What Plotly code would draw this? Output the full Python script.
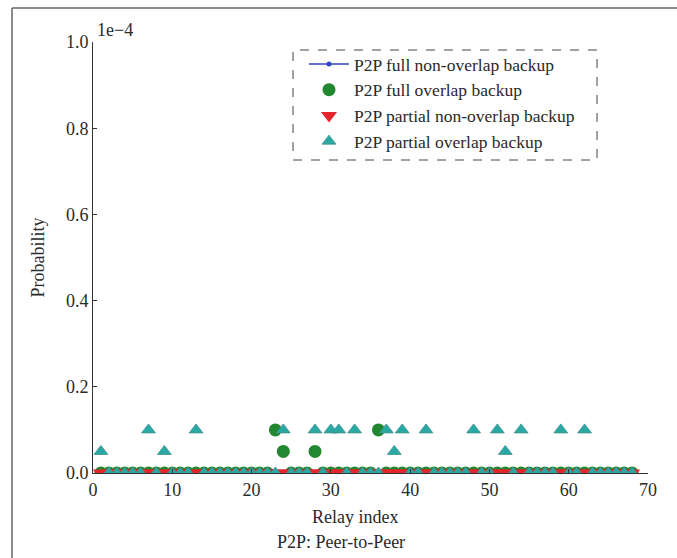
import plotly.graph_objects as go

# Relay indices and per-scheme probabilities
relay_index = list(range(1, 69))

# Nonzero probabilities for each scheme (relay index -> probability)
full_overlap_hits = {23: 1.0e-5, 24: 0.5e-5, 28: 0.5e-5, 36: 1.0e-5}
partial_overlap_hits = {
    1: 0.5e-5, 7: 1.0e-5, 9: 0.5e-5, 13: 1.0e-5, 24: 1.0e-5, 28: 1.0e-5,
    30: 1.0e-5, 31: 1.0e-5, 33: 1.0e-5, 37: 1.0e-5, 38: 0.5e-5, 39: 1.0e-5,
    42: 1.0e-5, 48: 1.0e-5, 51: 1.0e-5, 52: 0.5e-5, 54: 1.0e-5, 59: 1.0e-5,
    62: 1.0e-5,
}

full_non_overlap = [0.0 for _ in relay_index]
full_overlap = [full_overlap_hits.get(i, 0.0) for i in relay_index]
partial_non_overlap = [0.0 for _ in relay_index]
partial_overlap = [partial_overlap_hits.get(i, 0.0) for i in relay_index]

x_ticks = [0, 10, 20, 30, 40, 50, 60, 70]
y_ticks = [0.0, 0.2e-4, 0.4e-4, 0.6e-4, 0.8e-4, 1.0e-4]
y_tick_text = ["0.0", "0.2", "0.4", "0.6", "0.8", "1.0"]

FONT = "Liberation Serif, Times New Roman, serif"
TXT = "#2a2a2a"
FS = 18

fig = go.Figure()
fig.add_trace(go.Scatter(
    x=relay_index, y=full_non_overlap, mode="lines+markers",
    name="P2P full non-overlap backup",
    line=dict(color="#3045c0", width=1.5),
    marker=dict(symbol="circle", size=5, color="#3045c0"),
))
fig.add_trace(go.Scatter(
    x=relay_index, y=full_overlap, mode="markers",
    name="P2P full overlap backup",
    marker=dict(symbol="circle", size=13, color="#23872f"),
))
fig.add_trace(go.Scatter(
    x=relay_index, y=partial_non_overlap, mode="markers",
    name="P2P partial non-overlap backup",
    marker=dict(symbol="triangle-down", size=14, color="#e3262c"),
))
fig.add_trace(go.Scatter(
    x=relay_index, y=partial_overlap, mode="markers",
    name="P2P partial overlap backup",
    marker=dict(symbol="triangle-up", size=12, color="#2aa8a3",
                line=dict(color="#3f8f8e", width=0.8)),
))

# plot-area geometry in pixels (used for placing frame/legend box)
W, H = 677, 558
L, R, T, B = 93, 29, 42, 85
pw, ph = W - L - R, H - T - B


def px(xp):
    return (xp - L) / pw


def py(yp):
    return (H - B - yp) / ph


fig.update_layout(
    width=W, height=H,
    margin=dict(l=L, r=R, t=T, b=B),
    paper_bgcolor="white", plot_bgcolor="white",
    font=dict(family=FONT, size=FS, color=TXT),
    showlegend=True,
    legend=dict(
        x=px(304), y=py(46), xanchor="left", yanchor="top",
        bgcolor="rgba(0,0,0,0)", borderwidth=0,
        font=dict(family=FONT, size=17.5, color=TXT),
        itemwidth=40, tracegroupgap=0,
    ),
    xaxis=dict(
        range=[0, 70], tickvals=x_ticks, ticks="inside", ticklen=4,
        tickcolor="#333", showline=True, linecolor="#333", linewidth=1,
        showgrid=False, zeroline=False, mirror=False,
        tickfont=dict(family=FONT, size=FS, color=TXT),
    ),
    yaxis=dict(
        range=[0, 1.0e-4], tickvals=y_ticks, ticktext=y_tick_text,
        ticks="inside", ticklen=4, tickcolor="#333",
        showline=True, linecolor="#333", linewidth=1,
        showgrid=False, zeroline=False,
        title=dict(text="Probability", font=dict(family=FONT, size=FS, color=TXT),
                   standoff=16),
        tickfont=dict(family=FONT, size=FS, color=TXT),
    ),
    shapes=[
        # dashed legend box
        dict(type="rect", xref="paper", yref="paper",
             x0=px(293), x1=px(597), y0=py(160), y1=py(50),
             line=dict(color="#444", width=1, dash="dash")),
        # outer frame (top and left edges)
        dict(type="line", xref="paper", yref="paper",
             x0=px(12), x1=px(677), y0=py(8), y1=py(8),
             line=dict(color="#666", width=1.5)),
        dict(type="line", xref="paper", yref="paper",
             x0=px(12), x1=px(12), y0=py(8), y1=py(558),
             line=dict(color="#666", width=1.5)),
    ],
    annotations=[
        dict(text="1e\u22124", xref="paper", yref="paper", x=px(95), y=py(30),
             xanchor="left", yanchor="middle", showarrow=False,
             font=dict(family=FONT, size=FS, color=TXT)),
        dict(text="Relay index", xref="paper", yref="paper", x=px(355), y=py(517),
             xanchor="center", yanchor="middle", showarrow=False,
             font=dict(family=FONT, size=FS, color=TXT)),
        dict(text="P2P: Peer-to-Peer", xref="paper", yref="paper", x=px(341), y=py(542),
             xanchor="center", yanchor="middle", showarrow=False,
             font=dict(family=FONT, size=FS, color=TXT)),
    ],
)

fig.write_html("out.html")
